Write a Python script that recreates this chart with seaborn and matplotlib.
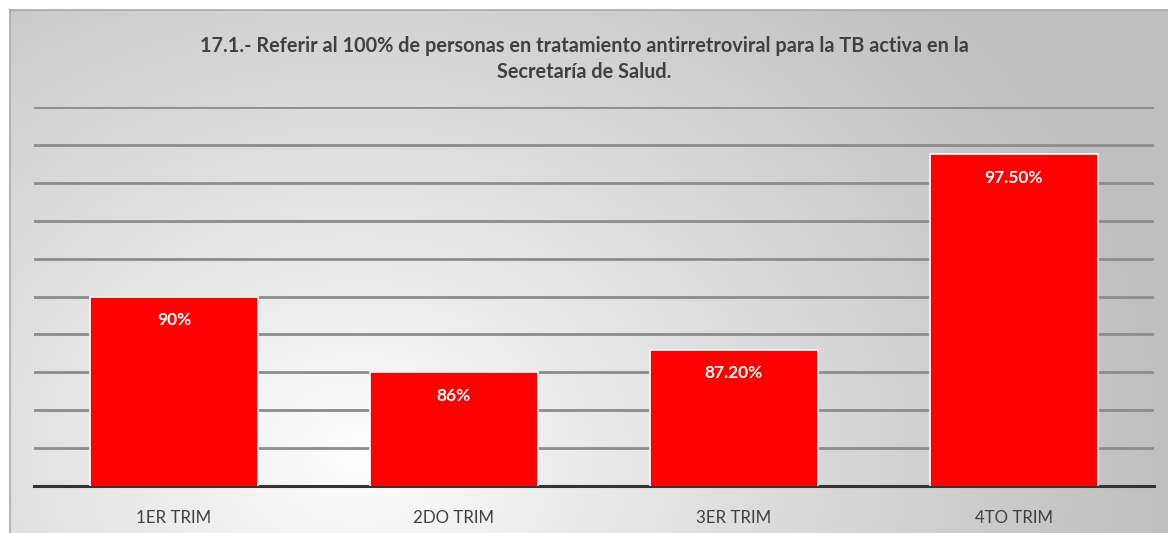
import matplotlib.pyplot as plt
import numpy as np
import pandas as pd
import seaborn as sns

# Chart data
categories = ["1ER TRIM", "2DO TRIM", "3ER TRIM", "4TO TRIM"]
values = [90.0, 86.0, 87.2, 97.5]
value_labels = ["90%", "86%", "87.20%", "97.50%"]
title = ("17.1.- Referir al 100% de personas en tratamiento antirretroviral para la TB activa en la\n"
         "Secretaría de Salud.")

sns.set_theme(style="white")
plt.rcParams["font.family"] = ["Lato", "DejaVu Sans"]

fig = plt.figure(figsize=(11.68, 5.33), dpi=100)
fig.patch.set_facecolor("white")

# Gradient background of the chart frame (white lower-left, gray elsewhere)
bg = fig.add_axes([10 / 1168, 0, 1 - 10 / 1168, 1 - 10 / 533])
h, w = 260, 580
yy, xx = np.mgrid[0:h, 0:w]
cx, cy = 0.30 * w, 0.15 * h
d = np.sqrt(((xx - cx) / (0.70 * w)) ** 2 + ((yy - cy) / (1.25 * h)) ** 2)
d = np.clip(d, 0, 1)
shade = 1.0 - 0.25 * d ** 0.9
bg.imshow(np.dstack([shade, shade, shade]), aspect="auto", extent=[0, 1, 0, 1],
          origin="lower", interpolation="bilinear")
bg.set_xticks([])
bg.set_yticks([])
for s in bg.spines.values():
    s.set_color("#a8a8a8")
    s.set_linewidth(1.2)
bg.spines["bottom"].set_visible(False)
bg.spines["right"].set_visible(False)
bg.set_zorder(0)

ax = fig.add_axes([34 / 1168, (533 - 486) / 533, 1120 / 1168, 379 / 533])
ax.set_zorder(1)
ax.patch.set_alpha(0)

df = pd.DataFrame({"trim": categories, "valor": values})
sns.barplot(data=df, x="trim", y="valor", color="#ff0000", saturation=1,
            width=0.6, edgecolor="white", linewidth=1.2, ax=ax, zorder=3)

ax.set_ylim(80, 100)
ax.set_xlim(-0.5, len(categories) - 0.5)
ax.set_yticks(np.arange(80, 101, 2))
ax.yaxis.grid(True, color="#8c8c8c", linewidth=2, zorder=0)
ax.set_axisbelow(True)
ax.tick_params(axis="y", left=False, labelleft=False)
ax.tick_params(axis="x", bottom=False, labelsize=12.2, colors="#404040", pad=11)
for s in ["left", "right", "top"]:
    ax.spines[s].set_visible(False)
ax.spines["bottom"].set_color("#333333")
ax.spines["bottom"].set_linewidth(2.2)
ax.set_xlabel("")
ax.set_ylabel("")

for i, (v, lab) in enumerate(zip(values, value_labels)):
    ax.text(i, v - 1.25, lab, ha="center", va="center", color="white",
            fontsize=12.5, fontweight="bold", zorder=5)

fig.text(0.50, 0.889, title, ha="center", va="center", fontsize=14.3,
         fontweight="bold", color="#404040", linespacing=1.35)

fig.savefig("out.png", dpi=100)
